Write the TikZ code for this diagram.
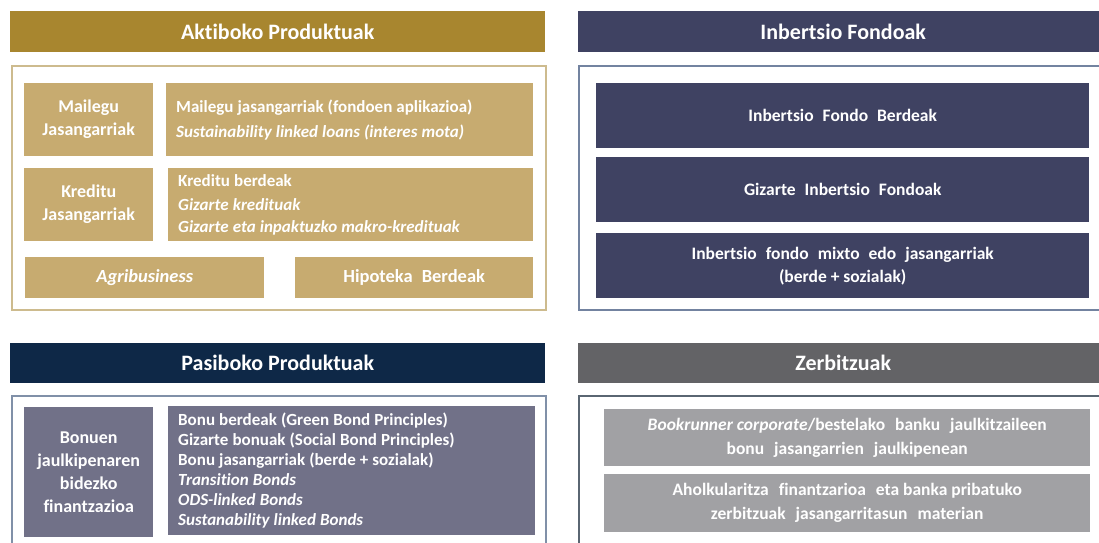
\documentclass[tikz,border=0pt]{standalone}
\usepackage{fontspec}
\setmainfont{Carlito}[Ligatures=NoCommon]
\definecolor{goldD}{HTML}{A8862F}
\definecolor{goldM}{HTML}{C7AB70}
\definecolor{goldB}{HTML}{CDBB8E}
\definecolor{slateD}{HTML}{3F4262}
\definecolor{slateB}{HTML}{7383A0}
\definecolor{navyD}{HTML}{0E2847}
\definecolor{navyM}{HTML}{717188}
\definecolor{navyB}{HTML}{8090A8}
\definecolor{greyD}{HTML}{636366}
\definecolor{greyM}{HTML}{A1A1A4}
\definecolor{greyB}{HTML}{5A6672}
% wide word gaps used in the justified-looking lines
\newcommand\wgap{\hspace{9pt}}
\newcommand\zgap{\hspace{10pt}}
% tighter interword spacing for the list texts
\newcommand\tightsp{\spaceskip=0.24em\relax}
\begin{document}
\begin{tikzpicture}[x=1pt,y=-1pt,
  header/.style={anchor=north west, inner sep=0pt, text=white,
    font=\fontsize{22}{24}\selectfont\bfseries},
  frame/.style={anchor=north west, inner sep=0pt, draw, line width=1.6pt},
  box/.style={anchor=north west, inner sep=0pt, text=white, align=center,
    font=\fontsize{16.5}{20}\selectfont\bfseries},
  label/.style={box, font=\fontsize{18}{23}\selectfont\bfseries},
  listbox/.style={box, align=left, inner xsep=10pt}
]
\clip (0,0) rectangle (1099,542);
\fill[white] (0,0) rectangle (1099,542);

% ---------- Aktiboko Produktuak ----------
\node[header, fill=goldD, minimum width=535pt, minimum height=41pt] (akh) at (10,11) {Aktiboko Produktuak};
\node[frame, draw=goldB, minimum width=534pt, minimum height=244pt] (akf) at (11,65) {};
\node[label, fill=goldM, minimum width=129pt, minimum height=73pt] (mail) at (24,83) {Mailegu\\Jasangarriak};
\node[listbox, fill=goldM, text width=347pt, minimum height=73pt, font=\fontsize{17}{21}\selectfont\bfseries] (mailr) at (166,83)
  {\tightsp Mailegu jasangarriak (fondoen aplikazioa)\\[4pt]\textit{Sustainability linked loans (interes mota)}};
\node[label, fill=goldM, minimum width=129pt, minimum height=73pt] (kred) at (24,168) {Kreditu\\Jasangarriak};
\node[listbox, fill=goldM, text width=345pt, minimum height=73pt, font=\fontsize{17}{22}\selectfont\bfseries] (kredr) at (168,168)
  {\tightsp Kreditu berdeak\\[2pt]\textit{Gizarte kredituak}\\\textit{Gizarte eta inpaktuzko makro-kredituak}};
\node[box, fill=goldM, minimum width=239pt, minimum height=41pt, font=\fontsize{18.5}{20}\selectfont\bfseries\itshape] (agri) at (25,257) {Agribusiness};
\node[box, fill=goldM, minimum width=238pt, minimum height=41pt, font=\fontsize{18.5}{20}\selectfont\bfseries] (hipo) at (295,257) {Hipoteka\wgap Berdeak};

% ---------- Inbertsio Fondoak ----------
\node[header, fill=slateD, minimum width=530pt, minimum height=41pt] (inh) at (578,11) {Inbertsio Fondoak};
\node[frame, draw=slateB, minimum width=540pt, minimum height=244pt] (inf) at (578,65) {};
\node[box, fill=slateD, minimum width=493pt, minimum height=65pt, font=\fontsize{17.5}{23}\selectfont\bfseries] (in1) at (596,83) {Inbertsio\wgap Fondo\wgap Berdeak};
\node[box, fill=slateD, minimum width=493pt, minimum height=65pt, font=\fontsize{17.5}{23}\selectfont\bfseries] (in2) at (596,157) {Gizarte\wgap Inbertsio\wgap Fondoak};
\node[box, fill=slateD, minimum width=493pt, minimum height=65pt, font=\fontsize{17.5}{23}\selectfont\bfseries] (in3) at (596,233)
  {Inbertsio\wgap fondo\wgap mixto\wgap edo\wgap jasangarriak\\(berde + sozialak)};

% ---------- Pasiboko Produktuak ----------
\node[header, fill=navyD, minimum width=535pt, minimum height=40pt] (pah) at (10,343) {Pasiboko Produktuak};
\node[frame, draw=navyB, minimum width=534pt, minimum height=200pt] (paf) at (11,395) {};
\node[label, fill=navyM, minimum width=129pt, minimum height=130pt] (bonu) at (24,407)
  {Bonuen\\jaulkipenaren\\bidezko\\finantzazioa};
\node[listbox, fill=navyM, text width=347pt, minimum height=129pt, font=\fontsize{17}{20}\selectfont\bfseries] (bonur) at (168,406)
  {\tightsp Bonu berdeak (Green Bond Principles)\\Gizarte bonuak (Social Bond Principles)\\Bonu jasangarriak (berde + sozialak)\\\textit{Transition Bonds}\\\textit{ODS-linked Bonds}\\\textit{Sustanability linked Bonds}};

% ---------- Zerbitzuak ----------
\node[header, fill=greyD, minimum width=530pt, minimum height=40pt] (zeh) at (578,343) {Zerbitzuak};
\node[frame, draw=greyB, minimum width=540pt, minimum height=200pt] (zef) at (578,395) {};
\node[box, fill=greyM, minimum width=486pt, minimum height=57pt, font=\fontsize{17.5}{24}\selectfont\bfseries] (ze1) at (604,409)
  {\textit{Bookrunner corporate}/bestelako\zgap banku\zgap jaulkitzaileen\\bonu\zgap jasangarrien\zgap jaulkipenean};
\node[box, fill=greyM, minimum width=486pt, minimum height=58pt, font=\fontsize{17.5}{24}\selectfont\bfseries] (ze2) at (604,474)
  {Aholkularitza\zgap finantzarioa\zgap eta banka pribatuko\\zerbitzuak\zgap jasangarritasun\zgap materian};
\end{tikzpicture}
\end{document}
